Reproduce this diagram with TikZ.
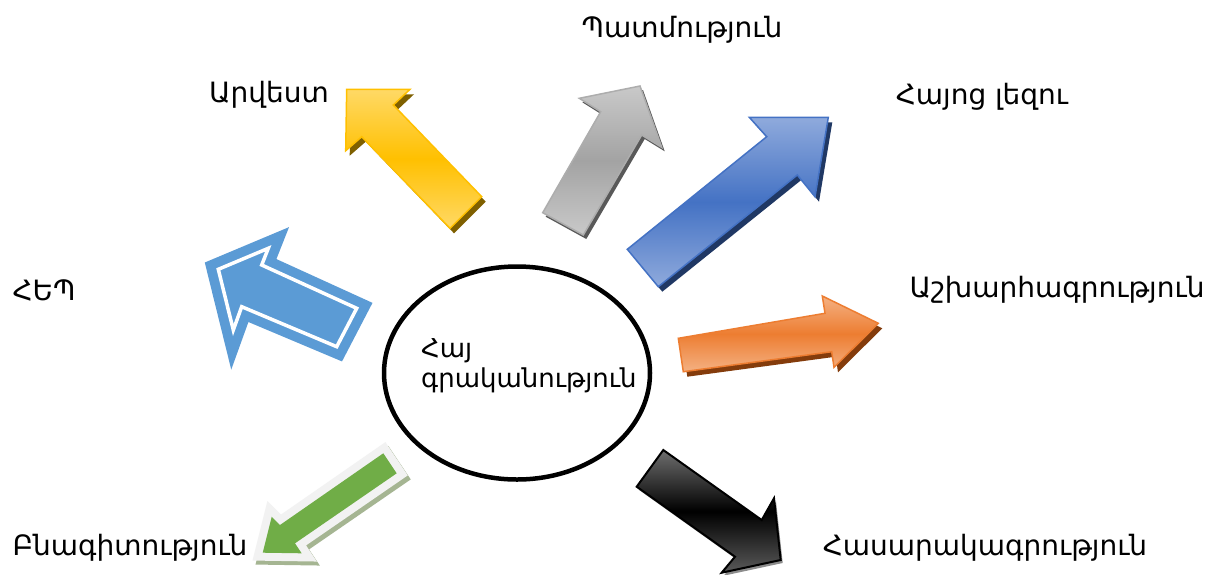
\documentclass[tikz,border=0pt]{standalone}
\usepackage{fontspec}
\setmainfont{DejaVu Sans}
\usetikzlibrary{shapes.geometric}
\definecolor{ylA}{HTML}{FFD966}
\definecolor{ylB}{HTML}{FFC000}
\definecolor{ylS}{HTML}{7F6000}
\definecolor{grA}{HTML}{C9C9C9}
\definecolor{grB}{HTML}{A3A3A3}
\definecolor{grL}{HTML}{ADADAD}
\definecolor{grS}{HTML}{595959}
\definecolor{blA}{HTML}{8FAADC}
\definecolor{blB}{HTML}{4472C4}
\definecolor{blS}{HTML}{203864}
\definecolor{orA}{HTML}{F4B183}
\definecolor{orB}{HTML}{ED7D31}
\definecolor{orS}{HTML}{843C0C}
\definecolor{bkA}{HTML}{6E6E6E}
\definecolor{bkC}{HTML}{5A5A5A}
\definecolor{bkS}{HTML}{8C8C8C}
\definecolor{hepB}{HTML}{5B9BD5}
\definecolor{gnF}{HTML}{70AD47}
\definecolor{gnB}{HTML}{F2F2F2}
\definecolor{gnS}{HTML}{A5B592}
\begin{document}
\begin{tikzpicture}[x=1pt,y=-1pt,line join=miter,
  lbl/.style={font=\fontsize{28}{32}\selectfont,inner sep=0pt},
  sh/.style={shift={(4,5)}},
  yarrow/.style={draw=ylB,line width=1.5pt,top color=ylA,bottom color=ylA,middle color=ylB},
  garrow/.style={draw=grL,line width=1.5pt,top color=grA,bottom color=grA,middle color=grB},
  barrow/.style={draw=blB,line width=1.5pt,top color=blA,bottom color=blA,middle color=blB},
  oarrow/.style={draw=orB,line width=1.5pt,top color=orA,bottom color=orA,middle color=orB},
  karrow/.style={draw=black,line width=2pt,top color=bkA,bottom color=bkC,middle color=black}]
\useasboundingbox[fill=white] (0,0) rectangle (1221,574);

% yellow arrow
\fill[ylS,sh] (346.7,89.3) -- (410,89.3) -- (393.3,105) -- (481.7,196.7) -- (450,228.3) -- (361.7,136.7) -- (345.7,150.7) -- cycle;
\draw[yarrow] (346.7,89.3) -- (410,89.3) -- (393.3,105) -- (481.7,196.7) -- (450,228.3) -- (361.7,136.7) -- (345.7,150.7) -- cycle;

% grey arrow
\fill[grS,shift={(3,4)}] (640,86) -- (661.7,147.3) -- (641.7,135) -- (583.3,235) -- (542.7,212.7) -- (600.7,111.7) -- (579.3,98.3) -- cycle;
\draw[garrow] (640,86) -- (661.7,147.3) -- (641.7,135) -- (583.3,235) -- (542.7,212.7) -- (600.7,111.7) -- (579.3,98.3) -- cycle;

% blue arrow
\fill[blS,sh] (828.3,117.3) -- (749.3,117.3) -- (766.7,136.7) -- (627.3,249.3) -- (658.3,286.7) -- (797.3,175) -- (815,196.7) -- cycle;
\draw[barrow] (828.3,117.3) -- (749.3,117.3) -- (766.7,136.7) -- (627.3,249.3) -- (658.3,286.7) -- (797.3,175) -- (815,196.7) -- cycle;

% orange arrow
\fill[orS,sh] (678.3,338.3) -- (825,313.3) -- (822.3,296) -- (878.3,323.3) -- (834,367.3) -- (831.7,351.7) -- (683.3,371.7) -- cycle;
\draw[oarrow] (678.3,338.3) -- (825,313.3) -- (822.3,296) -- (878.3,323.3) -- (834,367.3) -- (831.7,351.7) -- (683.3,371.7) -- cycle;

% black arrow
\fill[bkS,shift={(2,3)}] (663.3,450) -- (761.7,520) -- (774,498.3) -- (780.7,560) -- (721.7,572.7) -- (735,556.7) -- (636.7,486.7) -- cycle;
\draw[karrow] (663.3,450) -- (761.7,520) -- (774,498.3) -- (780.7,560) -- (721.7,572.7) -- (735,556.7) -- (636.7,486.7) -- cycle;

% outlined blue arrow
\draw[draw=hepB,fill=hepB,line width=23pt,miter limit=20] (218.3,269.3) -- (268.3,248.3) -- (261.7,265) -- (356.7,308.3) -- (336.7,346.7) -- (241.7,306.7) -- (233.3,330) -- cycle;
\draw[white,line width=3.5pt] (218.3,269.3) -- (268.3,248.3) -- (261.7,265) -- (356.7,308.3) -- (336.7,346.7) -- (241.7,306.7) -- (233.3,330) -- cycle;

% green arrow
\draw[draw=gnS,fill=gnS,line width=16pt,miter limit=20,shift={(3,4)}] (383.3,453.3) -- (396.7,473.3) -- (295,543.3) -- (301.7,553.3) -- (262.7,552.7) -- (271.7,516.7) -- (280,525) -- cycle;
\draw[draw=gnB,fill=gnB,line width=16pt,miter limit=20] (383.3,453.3) -- (396.7,473.3) -- (295,543.3) -- (301.7,553.3) -- (262.7,552.7) -- (271.7,516.7) -- (280,525) -- cycle;
\fill[gnF] (383.3,453.3) -- (396.7,473.3) -- (295,543.3) -- (301.7,553.3) -- (262.7,552.7) -- (271.7,516.7) -- (280,525) -- cycle;

% centre
\node[draw,ellipse,line width=4.5pt,minimum width=266pt,minimum height=213pt,inner sep=0pt] (c) at (517,373) {};
\node[font=\fontsize{26}{30}\selectfont,inner sep=0pt,align=left,anchor=west] (ct) at (421,366) {Հայ\\գրականություն};

% labels
\node[lbl] (l1) at (682,30) {Պատմություն};
\node[lbl] (l2) at (269,95) {Արվեստ};
\node[lbl] (l3) at (982,97) {Հայոց լեզու};
\node[lbl] (l4) at (44,290) {ՀԵՊ};
\node[lbl] (l5) at (1057,290) {Աշխարհագրություն};
\node[lbl] (l6) at (130,548) {Բնագիտություն};
\node[lbl] (l7) at (985,548) {Հասարակագրություն};
\end{tikzpicture}
\end{document}
